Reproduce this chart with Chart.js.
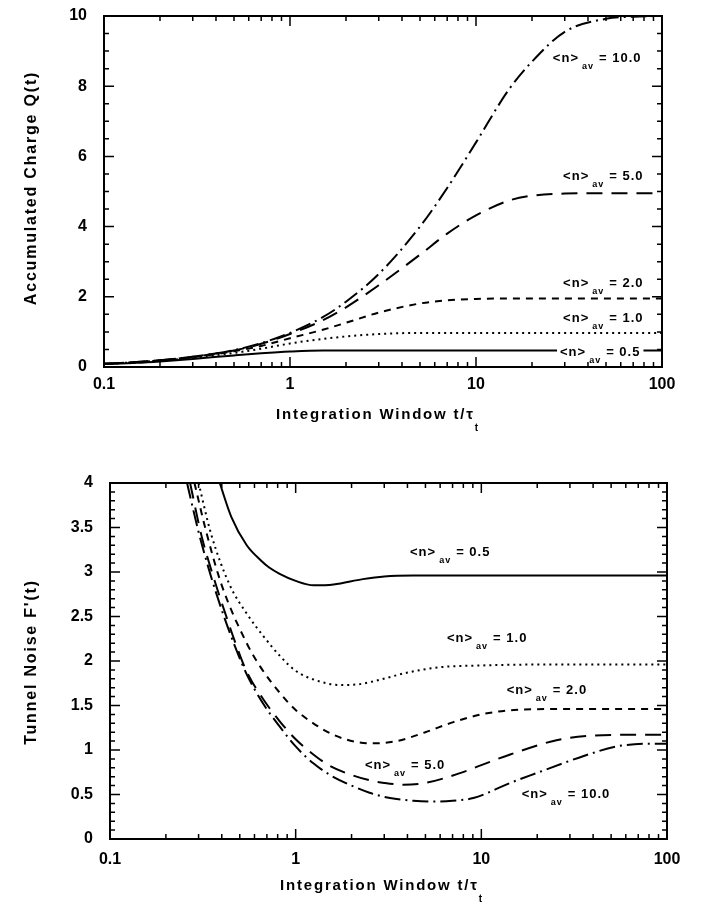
<!DOCTYPE html>
<html><head><meta charset="utf-8">
<script src="https://cdn.jsdelivr.net/npm/chart.js@4/dist/chart.umd.min.js"></script>
<style>
html,body{margin:0;padding:0;background:#fff;}
#wrap{position:relative;width:701px;height:904px;overflow:hidden;background:#fff;}
canvas{position:absolute;left:0;}
</style></head><body>
<div id="wrap">
<canvas id="c1" width="701" height="440" style="top:0;width:701px;height:440px"></canvas>
<canvas id="c2" width="701" height="464" style="top:440px;width:701px;height:464px"></canvas>
</div>
<script>
// ---------- data ----------
const xTickValues = [0.1, 1, 10, 100];
const xTickLabels = ['0.1', '1', '10', '100'];
const qTickValues = [0, 2, 4, 6, 8, 10];
const qTickLabels = ['0', '2', '4', '6', '8', '10'];
const fTickValues = [0, 0.5, 1, 1.5, 2, 2.5, 3, 3.5, 4];
const fTickLabels = ['0', '0.5', '1', '1.5', '2', '2.5', '3', '3.5', '4'];
const nLabels = ['0.5', '1.0', '2.0', '5.0', '10.0'];

// top panel: accumulated charge Q(t)
const qTimes = [0.1, 0.15, 0.2, 0.3, 0.5, 0.7, 1, 1.5, 2, 3, 5, 7, 10, 15, 20, 30, 50, 70, 100];
const qN05  = [0.085, 0.12, 0.16, 0.23, 0.33, 0.39, 0.44, 0.47, 0.47, 0.47, 0.47, 0.47, 0.47, 0.47, 0.47, 0.47, 0.47, 0.47, 0.47];
const qN10  = [0.09, 0.135, 0.18, 0.26, 0.40, 0.52, 0.67, 0.80, 0.87, 0.94, 0.97, 0.97, 0.97, 0.97, 0.97, 0.97, 0.97, 0.97, 0.97];
const qN20  = [0.09, 0.14, 0.19, 0.28, 0.45, 0.60, 0.82, 1.06, 1.26, 1.55, 1.81, 1.90, 1.94, 1.95, 1.95, 1.95, 1.95, 1.95, 1.95];
const qN50  = [0.09, 0.14, 0.19, 0.29, 0.47, 0.66, 0.94, 1.33, 1.70, 2.33, 3.20, 3.80, 4.32, 4.74, 4.88, 4.94, 4.95, 4.95, 4.95];
const qN100 = [0.09, 0.14, 0.19, 0.29, 0.48, 0.68, 0.97, 1.42, 1.86, 2.65, 4.00, 5.10, 6.40, 7.90, 8.70, 9.55, 9.92, 9.98, 10.0];

// bottom panel: tunnel noise F'(t)
const fN05T  = [0.39, 0.45, 0.545, 0.65, 0.72, 0.82, 1.0, 1.25, 1.6, 2.3, 3.0, 4.3, 10, 100];
const fN05   = [4.0, 3.62, 3.30, 3.13, 3.05, 2.98, 2.90, 2.85, 2.86, 2.92, 2.95, 2.96, 2.96, 2.96];
const fN10T  = [0.30, 0.35, 0.44, 0.55, 0.67, 0.82, 1.0, 1.3, 1.73, 2.2, 2.85, 4, 6, 10, 20, 100];
const fN10   = [4.0, 3.43, 2.86, 2.52, 2.28, 2.06, 1.89, 1.78, 1.73, 1.74, 1.79, 1.87, 1.93, 1.95, 1.96, 1.96];
const fN20T  = [0.285, 0.33, 0.40, 0.545, 0.643, 0.823, 1.0, 1.245, 1.6, 2.13, 2.6, 3.5, 5, 7, 10, 15, 25, 100];
const fN20   = [4.0, 3.45, 2.85, 2.20, 1.94, 1.64, 1.45, 1.30, 1.17, 1.09, 1.075, 1.10, 1.20, 1.31, 1.40, 1.45, 1.46, 1.46];
const fN50T  = [0.27, 0.31, 0.36, 0.42, 0.48, 0.545, 0.669, 0.823, 1.0, 1.245, 1.53, 2.0, 2.5, 3.0, 3.8, 5, 7.67, 10, 14.3, 25.4, 38.5, 60, 100];
const fN50   = [4.0, 3.42, 2.95, 2.52, 2.17, 1.88, 1.57, 1.32, 1.12, 0.95, 0.82, 0.72, 0.66, 0.63, 0.61, 0.63, 0.74, 0.83, 0.95, 1.11, 1.16, 1.17, 1.17];
const fN100T = [0.26, 0.30, 0.35, 0.408, 0.47, 0.545, 0.669, 0.823, 1.0, 1.245, 1.53, 2.0, 2.5, 3.22, 4.3, 5.5, 7, 9.06, 14.3, 19.8, 35.3, 53.5, 80.9, 100];
const fN100  = [4.0, 3.45, 2.95, 2.52, 2.17, 1.85, 1.52, 1.26, 1.04, 0.85, 0.72, 0.60, 0.52, 0.46, 0.43, 0.42, 0.43, 0.46, 0.63, 0.74, 0.93, 1.04, 1.07, 1.07];

// label anchor points (data coordinates)
const qLabelT = [28.3, 29.4, 29.4, 29.4, 25.9];
const qLabelV = [0.31, 1.28, 2.28, 5.33, 8.69];
const fLabelT = [4.13, 6.53, 13.7, 2.36, 16.5];
const fLabelV = [3.18, 2.21, 1.63, 0.79, 0.46];

// ---------- styles ----------
const FONT = '"Liberation Sans", Arial, Helvetica, sans-serif';
const styles = [
  { dash: [], width: 2 },           // 0.5 solid
  { dash: [2, 4], width: 2 },       // 1.0 dotted
  { dash: [7, 6], width: 2 },       // 2.0 short dash
  { dash: [16, 9], width: 2 },      // 5.0 long dash
  { dash: [16, 5, 2, 5], width: 2 } // 10.0 dash-dot
];

function pts(xs, ys) { return xs.map((x, i) => ({ x: x, y: ys[i] })); }
function ds(data, i) {
  return {
    data: data, borderColor: '#000', borderWidth: styles[i].width,
    borderDash: styles[i].dash, borderCapStyle: 'butt', pointRadius: 0,
    fill: false, cubicInterpolationMode: 'monotone'
  };
}

function drawLabel(ctx, x, y, val, bg) {
  ctx.save();
  ctx.fillStyle = '#000';
  ctx.textAlign = 'left'; ctx.textBaseline = 'alphabetic';
  const main = 'bold 13px ' + FONT, sub = 'bold 9px ' + FONT;
  try { ctx.letterSpacing = '1px'; } catch (e) {}
  ctx.font = main; const w1 = ctx.measureText('<n>').width;
  const w3 = ctx.measureText('= ' + val).width;
  ctx.font = sub; const w2 = ctx.measureText('av').width;
  const total = w1 + 3 + w2 + 5 + w3;
  if (bg) { ctx.fillStyle = '#fff'; ctx.fillRect(x - 3, y - 11, total + 6, 20); ctx.fillStyle = '#000'; }
  ctx.font = main; ctx.fillText('<n>', x, y);
  ctx.font = sub; ctx.fillText('av', x + w1 + 3, y + 7);
  ctx.font = main; ctx.fillText('= ' + val, x + w1 + 3 + w2 + 5, y);
  ctx.restore();
}

function drawXTitle(ctx, cx, y) {
  ctx.save();
  ctx.fillStyle = '#000'; ctx.textAlign = 'left'; ctx.textBaseline = 'alphabetic';
  try { ctx.letterSpacing = '1.8px'; } catch (e) {}
  const main = 'bold 15px ' + FONT, sub = 'bold 10px ' + FONT;
  const txt = 'Integration Window t/\u03C4';
  ctx.font = main; const w = ctx.measureText(txt).width;
  ctx.font = sub; const ws = ctx.measureText('t').width;
  const x0 = cx - (w + ws) / 2;
  ctx.font = main; ctx.fillText(txt, x0, y);
  ctx.font = sub; ctx.fillText('t', x0 + w, y + 12);
  ctx.restore();
}

function drawYTitle(ctx, x, cy, txt) {
  ctx.save();
  ctx.fillStyle = '#000';
  ctx.translate(x, cy); ctx.rotate(-Math.PI / 2);
  try { ctx.letterSpacing = '1.8px'; } catch (e) {}
  ctx.font = 'bold 16px ' + FONT;
  ctx.textAlign = 'center'; ctx.textBaseline = 'middle';
  ctx.fillText(txt, 0, 0);
  ctx.restore();
}

function makeFramePlugin(cfg) {
  return {
    id: 'frame',
    afterDraw(chart) {
      const ctx = chart.ctx, a = chart.chartArea, x = chart.scales.x, y = chart.scales.y;
      for (let i = 0; i < cfg.labT.length; i++) {
        drawLabel(ctx, x.getPixelForValue(cfg.labT[i]), y.getPixelForValue(cfg.labV[i]), nLabels[i], cfg.bgIndex === i);
      }
      ctx.save();
      ctx.strokeStyle = '#000';
      ctx.lineWidth = 2;
      ctx.strokeRect(a.left, a.top, a.right - a.left, a.bottom - a.top);
      ctx.lineWidth = 1.5;
      ctx.beginPath();
      [0.1, 1, 10].forEach(d => {
        for (let m = 1; m <= 9; m++) {
          const px = x.getPixelForValue(m * d);
          const L = m === 1 ? 10 : 5;
          ctx.moveTo(px, a.bottom); ctx.lineTo(px, a.bottom - L);
          ctx.moveTo(px, a.top); ctx.lineTo(px, a.top + L);
        }
      });
      const nMinor = Math.round((cfg.yMax - cfg.yMin) / cfg.yMinor);
      const per = Math.round(cfg.yMajor / cfg.yMinor);
      for (let k = 0; k <= nMinor; k++) {
        const v = cfg.yMin + k * cfg.yMinor;
        const py = y.getPixelForValue(v);
        const L = (k % per === 0) ? 10 : 5;
        ctx.moveTo(a.left, py); ctx.lineTo(a.left + L, py);
        ctx.moveTo(a.right, py); ctx.lineTo(a.right - L, py);
      }
      ctx.stroke();
      ctx.restore();
      drawXTitle(ctx, cfg.xTitleX, cfg.xTitleY);
      drawYTitle(ctx, cfg.yTitleX, cfg.yTitleY, cfg.yTitle);
    }
  };
}

function makeChart(id, datasets, yMin, yMax, yTicks, yLabels, dims, frameCfg) {
  return new Chart(document.getElementById(id), {
    type: 'line',
    data: { datasets: datasets },
    options: {
      responsive: false, animation: false, devicePixelRatio: 1,
      layout: { padding: { top: dims.top, right: dims.right, left: 0, bottom: 0 } },
      plugins: { legend: { display: false }, tooltip: { enabled: false } },
      scales: {
        x: {
          type: 'logarithmic', min: 0.1, max: 100, position: 'bottom',
          grid: { display: false, drawTicks: false, tickLength: 0 },
          border: { display: false },
          afterBuildTicks: s => { s.ticks = xTickValues.map(v => ({ value: v })); },
          afterFit: s => { s.height = dims.xh; s.paddingLeft = 0; s.paddingRight = 0; },
          ticks: {
            autoSkip: false, maxRotation: 0, minRotation: 0, padding: dims.xpad, color: '#000',
            font: { family: FONT, size: 16, weight: 'bold' },
            callback: (v, i) => xTickLabels[i]
          }
        },
        y: {
          type: 'linear', min: yMin, max: yMax, position: 'left',
          grid: { display: false, drawTicks: false, tickLength: 0 },
          border: { display: false },
          afterBuildTicks: s => { s.ticks = yTicks.map(v => ({ value: v })); },
          afterFit: s => { s.width = dims.yw; s.paddingTop = 0; s.paddingBottom = 0; },
          ticks: {
            autoSkip: false, padding: 17, color: '#000',
            font: { family: FONT, size: 16, weight: 'bold' },
            callback: (v, i) => yLabels[i]
          }
        }
      }
    },
    plugins: [makeFramePlugin(frameCfg)]
  });
}

makeChart('c1', [
  ds(pts(qTimes, qN05), 0), ds(pts(qTimes, qN10), 1), ds(pts(qTimes, qN20), 2),
  ds(pts(qTimes, qN50), 3), ds(pts(qTimes, qN100), 4)
], 0, 10, qTickValues, qTickLabels,
  { top: 16, right: 39, xh: 73, yw: 104, xpad: 8 },
  { labT: qLabelT, labV: qLabelV, bgIndex: 0, yMin: 0, yMax: 10, yMinor: 0.5, yMajor: 2,
    xTitleX: 378, xTitleY: 419, yTitleX: 32, yTitleY: 188, yTitle: 'Accumulated Charge Q(t)' });

makeChart('c2', [
  ds(pts(fN05T, fN05), 0), ds(pts(fN10T, fN10), 1), ds(pts(fN20T, fN20), 2),
  ds(pts(fN50T, fN50), 3), ds(pts(fN100T, fN100), 4)
], 0, 4, fTickValues, fTickLabels,
  { top: 43, right: 34, xh: 65, yw: 110, xpad: 11 },
  { labT: fLabelT, labV: fLabelV, bgIndex: -1, yMin: 0, yMax: 4, yMinor: 0.1, yMajor: 0.5,
    xTitleX: 382, xTitleY: 450, yTitleX: 32, yTitleY: 222, yTitle: "Tunnel Noise F'(t)" });
</script>
</body></html>
